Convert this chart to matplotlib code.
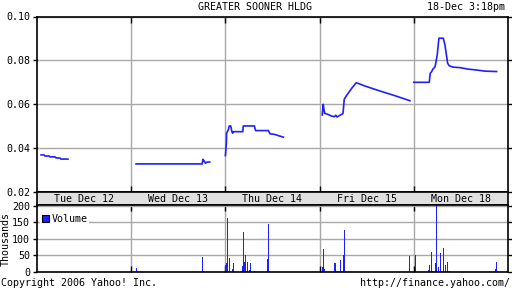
import numpy as np
import matplotlib
matplotlib.use('Agg')
import matplotlib.pyplot as plt
from matplotlib.patches import Patch

# intraday price, minutes after open per trading day
days = ['Tue Dec 12', 'Wed Dec 13', 'Thu Dec 14', 'Fri Dec 15', 'Mon Dec 18']

tue_min = [17, 29, 33, 50, 54, 75, 79, 95, 99, 128]
tue_px = [0.0369, 0.0369, 0.0364, 0.0364, 0.0360, 0.0360, 0.0355, 0.0355, 0.0350, 0.0350]

wed_min = [20, 294, 297, 301, 308, 313, 325]
wed_px = [0.0328, 0.0328, 0.0349, 0.0343, 0.0331, 0.0336, 0.0337]

thu_min = [0, 4, 5, 12, 16, 22, 27, 30, 33, 72, 74, 120, 125, 178, 185, 202, 219, 240]
thu_px = [0.0366, 0.0422, 0.0468, 0.0483, 0.0501, 0.0501, 0.0475, 0.0468, 0.0475, 0.0475,
          0.0501, 0.0501, 0.0480, 0.0480, 0.0465, 0.0463, 0.0457, 0.0450]

fri_min = [11, 15, 18, 21, 36, 47, 61, 67, 72, 80, 94, 97, 102, 113, 133, 152, 167, 188,
           229, 271, 312, 374]
fri_px = [0.0551, 0.0600, 0.0577, 0.0559, 0.0553, 0.0547, 0.0543, 0.0550, 0.0542, 0.0547,
          0.0556, 0.0559, 0.0623, 0.0642, 0.0673, 0.0698, 0.0692, 0.0683, 0.0668, 0.0653,
          0.0639, 0.0616]

mon_min = [0, 64, 68, 74, 79, 88, 92, 97, 104, 122, 129, 135, 140, 147, 164, 191, 226,
           260, 295, 343]
mon_px = [0.0700, 0.0700, 0.0741, 0.0749, 0.0760, 0.0771, 0.0794, 0.0825, 0.0901, 0.0901,
          0.0870, 0.0825, 0.0787, 0.0775, 0.0769, 0.0767, 0.0760, 0.0756, 0.0751, 0.0749]

# volume bars (thousands)
vol_day = [1, 1, 1,
           2, 2, 2, 2, 2, 2, 2, 2, 2, 2, 2, 2, 2, 2, 2, 2,
           3, 3, 3, 3, 3, 3, 3, 3, 3, 3,
           4, 4, 4, 4, 4, 4, 4, 4, 4, 4, 4, 4, 4, 4, 4, 4]
vol_min = [21, 294, 297,
           0, 4, 8, 16, 29, 33, 69, 73, 77, 82, 91, 96, 102, 120, 172, 178,
           11, 15, 19, 60, 64, 73, 86, 98, 102, 371,
           6, 60, 64, 72, 77, 89, 93, 99, 107, 113, 122, 130, 137, 147, 337, 341]
vol_k = [12, 45, 3,
         21, 26, 163, 42, 9, 27, 18, 121, 30, 51, 30, 5, 27, 3, 39, 145,
         14, 70, 10, 27, 27, 4, 36, 51, 127, 48,
         51, 5, 21, 62, 3, 28, 203, 14, 59, 3, 72, 21, 31, 3, 8, 31]

blue = '#1f1fff'
grid = '#a8a8a8'
band = '#e0e0e0'
fs = 7.2
plt.rcParams['font.family'] = ['DejaVu Sans Mono']

fig = plt.figure(figsize=(5.12, 2.88), dpi=100)
L, R = 37/512, 508/512
ax = fig.add_axes([L, 1-192/288, R-L, (192-16.5)/288])
axb = fig.add_axes([L, 1-205/288, R-L, 13/288])
axv = fig.add_axes([L, 1-272/288, R-L, 67/288])

session = 390.0
for d, (m, p) in enumerate([(tue_min, tue_px), (wed_min, wed_px), (thu_min, thu_px),
                             (fri_min, fri_px), (mon_min, mon_px)]):
    ax.plot(d + np.array(m)/session, p, color=blue, lw=1.2)

ax.set_xlim(0, 5)
ax.set_ylim(0.02, 0.10)
ax.set_yticks([0.02, 0.04, 0.06, 0.08, 0.10])
ax.set_yticklabels(['0.02', '0.04', '0.06', '0.08', '0.10'], fontsize=fs)
ax.set_xticks([1, 2, 3, 4])
ax.set_xticklabels([])
ax.tick_params(axis='x', direction='in', length=4, width=1, bottom=True, top=True)
ax.tick_params(axis='y', direction='out', length=3, width=1, left=True, right=True, pad=2)
ax.grid(True, color=grid, lw=1)
for s in ax.spines.values():
    s.set_linewidth(1.2)

# date band
axb.set_facecolor(band)
axb.set_xlim(0, 5)
axb.set_ylim(0, 1)
axb.set_xticks([])
axb.set_yticks([])
for i, lab in enumerate(days):
    axb.text(i + 0.5, 0.45, lab, ha='center', va='center', fontsize=fs)
for s in axb.spines.values():
    s.set_linewidth(1.2)

# volume
x_vol = np.array(vol_day) + np.array(vol_min)/session
axv.bar(x_vol, vol_k, width=0.0107, color=blue, linewidth=0, align='edge', antialiased=False)
axv.set_xlim(0, 5)
axv.set_ylim(0, 203)
axv.set_yticks([0, 50, 100, 150, 200])
axv.set_yticklabels(['0', '50', '100', '150', '200'], fontsize=fs)
axv.set_xticks([1, 2, 3, 4])
axv.set_xticklabels([])
axv.tick_params(axis='x', direction='in', length=4, width=1, bottom=True, top=True)
axv.tick_params(axis='y', direction='out', length=3, width=1, left=True, right=True, pad=2)
axv.grid(True, color=grid, lw=1)
axv.set_axisbelow(True)
for s in axv.spines.values():
    s.set_linewidth(1.2)
axv.set_ylabel('Thousands', fontsize=fs, labelpad=1)
leg = axv.legend(handles=[Patch(facecolor=blue, edgecolor='black', lw=0.8)], labels=['Volume'],
                 loc='upper left', fontsize=fs, frameon=True, fancybox=False,
                 handlelength=0.7, handleheight=0.7, handletextpad=0.3,
                 borderpad=0.15, borderaxespad=0.3, bbox_to_anchor=(0.0, 0.93))
leg.get_frame().set_edgecolor('none')
leg.get_frame().set_alpha(1)

fig.text(255.5/512, 1-7/288, 'GREATER SOONER HLDG', ha='center', va='center', fontsize=fs)
fig.text(505/512, 1-7/288, '18-Dec 3:18pm', ha='right', va='center', fontsize=fs)
fig.text(1/512, 1-282.5/288, 'Copyright 2006 Yahoo! Inc.', ha='left', va='center', fontsize=fs)
fig.text(510/512, 1-282.5/288, 'http://finance.yahoo.com/', ha='right', va='center', fontsize=fs)

fig.savefig('out.png', dpi=100)
